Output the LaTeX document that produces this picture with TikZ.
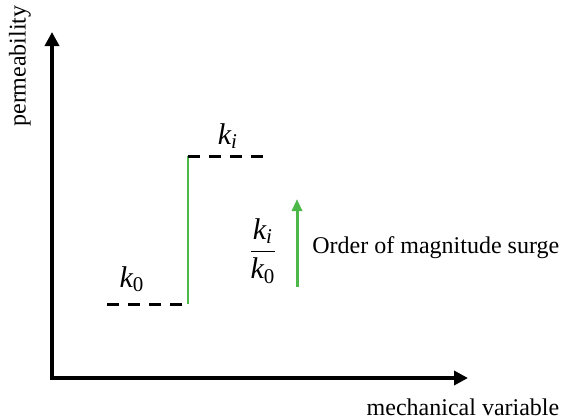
\documentclass[tikz,border=0pt]{standalone}
\usepackage{amsmath}
\usepackage{fontspec}
\setmainfont{Liberation Serif}
\usepackage{tikz}
\usetikzlibrary{arrows.meta,positioning}
\definecolor{surgegreen}{RGB}{76,184,72}

\newcommand{\kvar}[1]{\textit{k}_{#1}}

\begin{document}
\begin{tikzpicture}[
  x=0.5pt, y=-0.5pt,
  axis/.style={line width=2pt, {Triangle[length=7pt,width=7pt]}-{Triangle[length=7pt,width=7pt]}},
  level/.style={line width=1.5pt, dash pattern=on 6pt off 4.5pt},
  jumpline/.style={line width=1pt, color=surgegreen},
  surge/.style={-{Triangle[length=6pt,width=5pt]}, line width=1.5pt, color=surgegreen},
  label/.style={font=\fontsize{12}{14}\selectfont, inner sep=0pt},
  klabel/.style={font=\fontsize{15}{17}\selectfont, inner sep=0pt}
]
  \useasboundingbox (0,0) rectangle (563,419);

  % Axes
  \coordinate (ytip) at (52,32);
  \coordinate (xtip) at (468,378);
  \draw[axis] (ytip) |- (xtip);
  \node[label, rotate=90] (ylab) at (20,66) {permeability};
  \node[label] (xlab) at (463,407) {mechanical variable};

  % Permeability levels
  \coordinate (lowL) at (107,304);
  \coordinate (stepB) at (188,304);
  \coordinate (stepT) at (188,156);
  \coordinate (highR) at (266,156);
  \draw[level] (lowL) -- (stepB);
  \draw[jumpline] (stepB) -- (stepT);
  \draw[level] (stepT) -- (highR);
  \node[klabel] (k0) at (132,279) {$\kvar{\textrm{0}}$};
  \node[klabel] (ki) at (228,136) {$\kvar{\textit{i}}$};

  % Surge
  \coordinate (surgeB) at (297,287);
  \coordinate (surgeT) at (297,199);
  \draw[surge] (surgeB) -- (surgeT);
  \node[klabel] (ratio) at (263,251) {$\dfrac{\kvar{\textit{i}}}{\kvar{\textrm{0}}}$};
  \node[label, anchor=west] (surgelab) at (312,248) {Order of magnitude surge};
\end{tikzpicture}
\end{document}
